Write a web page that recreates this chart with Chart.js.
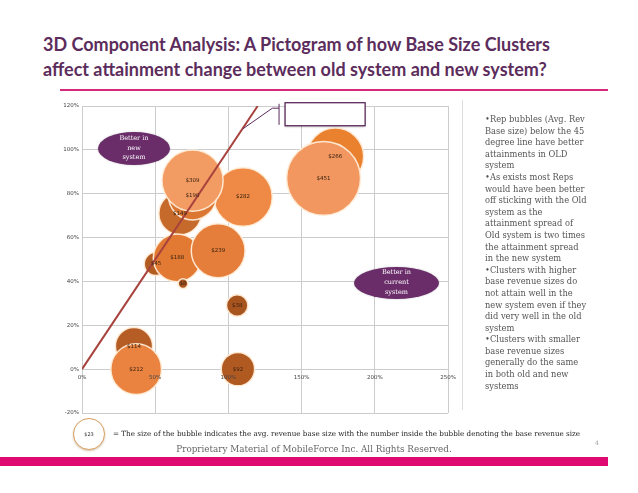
<!DOCTYPE html>
<html>
<head>
<meta charset="utf-8">
<script src="https://cdn.jsdelivr.net/npm/chart.js@4.4.1/dist/chart.umd.min.js"></script>
<style>
  body { margin: 0; width: 638px; height: 493px; position: relative; overflow: hidden; background: #fff; font-family: "DejaVu Serif", serif; }
  #title { position: absolute; left: 43px; top: 32px; font-family: Lato, sans-serif; font-weight: 700; font-size: 18px; line-height: 25px; color: #5c2d5c; white-space: nowrap; }
  #rule { position: absolute; left: 60px; top: 89px; width: 548px; height: 2px; background: #d62a7e; }
  #wrap { position: absolute; left: 0; top: 0; width: 638px; height: 493px; }
  .oval { position: absolute; border-radius: 50%; background: #6a2d6a; color: #fff; font-size: 6.5px; text-align: center; display: flex; align-items: center; justify-content: center; box-shadow: 0 0 2px rgba(0,0,0,0.25); }
  .oval span { line-height: 9.8px; }
  #sep { position: absolute; left: 462px; top: 100px; width: 1px; height: 310px; background: #dcdcdc; }
  #notes { position: absolute; left: 485px; top: 114px; font-size: 8.3px; line-height: 11.6px; color: #555; white-space: nowrap; }
  #key { position: absolute; left: 73px; top: 418px; width: 30px; height: 30px; border: 1.5px solid #d8a062; border-radius: 50%; background: #fff; box-shadow: 0 1px 2px rgba(150,100,40,0.4); font-family: "DejaVu Sans", sans-serif; font-size: 5px; color: #333; display: flex; align-items: center; justify-content: center; }
  #keytext { position: absolute; left: 113px; top: 429px; font-size: 7.2px; color: #222; white-space: nowrap; }
  #owner { position: absolute; left: 0; width: 628px; top: 444px; text-align: center; font-size: 8.8px; color: #666; }
  #page { position: absolute; left: 595px; top: 439px; font-size: 6px; color: #999; }
  #bar { position: absolute; left: 0; top: 457px; width: 608px; height: 9px; background: #de0a72; }
</style>
</head>
<body>
<div id="title">3D Component Analysis: A Pictogram of how Base Size Clusters<br>affect attainment change between old system and new system?</div>
<div id="rule"></div>
<div id="wrap"><canvas id="bubbleChart"></canvas></div>
<div class="oval" style="left:98px;top:132px;width:72px;height:33px"><span>Better in<br>new<br>system</span></div>
<div class="oval" style="left:354px;top:267px;width:85px;height:32px"><span>Better in<br>current<br>system</span></div>
<div id="sep"></div>
<div id="notes">•Rep bubbles (Avg. Rev<br>Base size) below the 45<br>degree line have better<br>attainments in OLD<br>system<br>•As exists most Reps<br>would have been better<br>off sticking with the Old<br>system as the<br>attainment spread of<br>Old system is two times<br>the attainment spread<br>in the new system<br>•Clusters with higher<br>base revenue sizes do<br>not attain well in the<br>new system even if they<br>did very well in the old<br>system<br>•Clusters with smaller<br>base revenue sizes<br>generally do the same<br>in both old and new<br>systems</div>
<div id="key">$23</div>
<div id="keytext">= The size of the bubble indicates the avg. revenue base size with the number inside the bubble denoting the base revenue size</div>
<div id="owner">Proprietary Material of MobileForce Inc. All Rights Reserved.</div>
<div id="page">4</div>
<div id="bar"></div>

<script>
    // clusters, in drawing order (later ones sit on top)
    let baseSize      = [266, 451, 282, 149, 190, 309, 45, 188, 239, 8, 38, 114, 212, 92];
    let oldAttainment = [1.73, 1.65, 1.10, 0.67, 0.755, 0.755, 0.505, 0.65, 0.93, 0.69, 1.06, 0.355, 0.37, 1.065];
    let newAttainment = [0.97, 0.87, 0.785, 0.71, 0.79, 0.86, 0.48, 0.507, 0.54, 0.39, 0.29, 0.105, 0.0, 0.0];
    let bubbleColors  = ["#e9812f", "#f1975f", "#ee8a45", "#c56a2b", "#dc7733", "#f29b63", "#b35c22",
                         "#e27a34", "#e47e3a", "#a9541f", "#a8541f", "#b55d24", "#ea8340", "#b05a22"];

    let xTicks = [0, 0.5, 1, 1.5, 2, 2.5];
    let yTicks = [-0.2, 0, 0.2, 0.4, 0.6, 0.8, 1.0, 1.2];
    let diagonal = [0, 1.2];

    let pct = v => Math.round(v * 100) + "%";

    let bubbleData = baseSize.map((v, i) => ({ x: oldAttainment[i], y: newAttainment[i], v }));

    let labelsPlugin = {
        id: "labelsPlugin",
        afterDatasetsDraw(chart) {
            let { ctx } = chart;
            let meta = chart.getDatasetMeta(1);
            ctx.save();
            ctx.font = '5.5px "DejaVu Sans"';
            ctx.fillStyle = "#3a2210";
            ctx.textAlign = "center";
            ctx.textBaseline = "middle";
            meta.data.forEach((pt, i) => ctx.fillText("$" + baseSize[i], pt.x, pt.y));
            ctx.restore();
        },
        afterDraw(chart) {
            // callout box above the 45 degree line
            let { ctx, scales: { x, y } } = chart;
            ctx.save();
            ctx.strokeStyle = "#5b2a5b";
            ctx.lineWidth = 1;
            ctx.beginPath();
            ctx.moveTo(x.getPixelForValue(1.099), y.getPixelForValue(1.096));
            ctx.lineTo(x.getPixelForValue(1.30), y.getPixelForValue(1.19));
            ctx.lineTo(x.getPixelForValue(1.346), y.getPixelForValue(1.19));
            ctx.moveTo(x.getPixelForValue(1.346), y.getPixelForValue(1.21));
            ctx.lineTo(x.getPixelForValue(1.346), y.getPixelForValue(1.114));
            ctx.stroke();
            let bx = x.getPixelForValue(1.387), by = y.getPixelForValue(1.215);
            let bw = x.getPixelForValue(1.934) - bx, bh = y.getPixelForValue(1.11) - by;
            ctx.shadowColor = "rgba(0,0,0,0.25)";
            ctx.shadowBlur = 2;
            ctx.shadowOffsetY = 1;
            ctx.fillStyle = "#fff";
            ctx.fillRect(bx, by, bw, bh);
            ctx.shadowColor = "transparent";
            ctx.lineWidth = 1.3;
            ctx.strokeRect(bx, by, bw, bh);
            ctx.restore();
        }
    };

    let tickFont = { size: 5.5, family: "DejaVu Sans" };

    new Chart(document.getElementById("bubbleChart"), {
        type: "bubble",
        data: {
            datasets: [{
                type: "line",
                data: diagonal.map(v => ({ x: v, y: v })),
                borderColor: "#a8423d",
                borderWidth: 2,
                pointRadius: 0,
                fill: false,
                order: 0
            }, {
                data: bubbleData,
                backgroundColor: bubbleColors,
                borderColor: "rgba(255,236,215,0.95)",
                borderWidth: 1.5,
                radius: c => 1.74 * Math.sqrt(c.raw.v),
                hoverRadius: 0,
                order: 1
            }]
        },
        options: {
            responsive: true,
            maintainAspectRatio: false,
            animation: false,
            layout: { padding: { left: 62, right: 190, top: 106, bottom: 80 } },
            plugins: { legend: { display: false }, tooltip: { enabled: false } },
            scales: {
                x: {
                    type: "linear",
                    min: 0,
                    max: 2.5,
                    position: { y: 0 },
                    afterBuildTicks: s => { s.ticks = xTicks.map(value => ({ value })); },
                    // labels drawn above the bubbles, grid below them
                    ticks: { callback: pct, font: tickFont, color: "#444", padding: 5, maxRotation: 0, z: 1 },
                    grid: { color: "#cccccc", lineWidth: 1, drawTicks: false, z: -1 },
                    border: { display: false }
                },
                y: {
                    min: -0.2,
                    max: 1.2,
                    afterBuildTicks: s => { s.ticks = yTicks.map(value => ({ value })); },
                    afterFit: s => { s.width = 20; },
                    ticks: { callback: pct, font: tickFont, color: "#444", padding: 3 },
                    grid: { color: "#cccccc", lineWidth: 1, drawTicks: false },
                    border: { display: false }
                }
            }
        },
        plugins: [labelsPlugin]
    });
</script>
</body>
</html>
